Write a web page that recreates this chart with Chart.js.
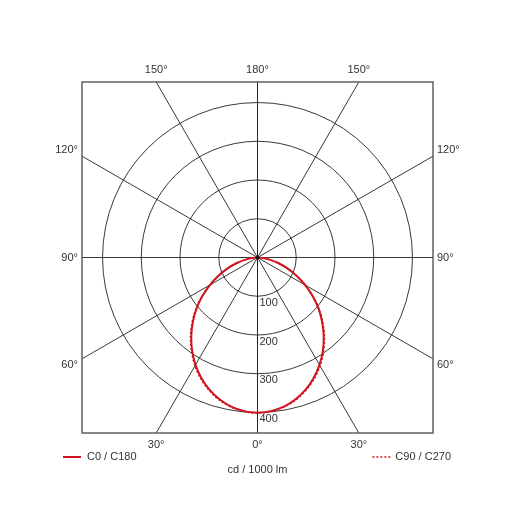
<!DOCTYPE html>
<html>
<head>
<meta charset="utf-8">
<script src="https://cdn.jsdelivr.net/npm/chart.js@4"></script>
<style>
  body { margin: 0; background: #fff; }
  #wrap { width: 515px; height: 515px; }
</style>
</head>
<body>
<div id="wrap"><canvas id="polarChart" width="515" height="515"></canvas></div>
<script>
// Gamma angles (deg from nadir) and intensities in cd / 1000 lm
const gammaAngles = [0, 5, 10, 15, 20, 25, 30, 35, 40, 45, 50, 55, 60, 65, 70, 75, 80, 85, 90];
const c0c180 = [401, 398, 391, 379, 363, 343, 320, 294, 266, 236, 206, 174, 142, 111, 82, 55, 31, 11, 0];
const c90c270 = [402, 399, 392, 381, 365, 346, 323, 297, 269, 239, 208, 176, 143, 112, 83, 56, 31, 11, 0];

// grid
const ringValues = [100, 200, 300, 400];
const spokeAngles = [0, 30, 60, 90, 120, 150, 180];
const spokeLabels = ['0°', '30°', '60°', '90°', '120°', '150°', '180°'];
const legendLabels = ['C0 / C180', 'C90 / C270'];
const unitLabel = 'cd / 1000 lm';
const axisLimit = 453;

const red = '#d0141e';

// Turn one C-plane into a closed outline (left half then right half)
function toPoints(values) {
    const pts = [];
    for (let i = gammaAngles.length - 1; i >= 0; i--) {
        const a = gammaAngles[i] * Math.PI / 180;
        pts.push({ x: -values[i] * Math.sin(a), y: -values[i] * Math.cos(a) });
    }
    for (let i = 1; i < gammaAngles.length; i++) {
        const a = gammaAngles[i] * Math.PI / 180;
        pts.push({ x: values[i] * Math.sin(a), y: -values[i] * Math.cos(a) });
    }
    return pts;
}

// Polar grid, frame and texts
const polarGrid = {
    id: 'polarGrid',
    beforeDatasetsDraw(chart) {
        const { ctx, chartArea, scales } = chart;
        const cx = scales.x.getPixelForValue(0);
        const cy = scales.y.getPixelForValue(0);
        const unit = scales.x.getPixelForValue(100) - cx;
        ctx.save();
        ctx.beginPath();
        ctx.rect(chartArea.left, chartArea.top, chartArea.width, chartArea.height);
        ctx.clip();
        ctx.strokeStyle = '#222';
        ctx.lineWidth = 0.9;
        ringValues.forEach(v => {
            ctx.beginPath();
            ctx.arc(cx, cy, v / 100 * unit, 0, Math.PI * 2);
            ctx.stroke();
        });
        spokeAngles.forEach(deg => {
            const a = deg * Math.PI / 180;
            [-1, 1].forEach(side => {
                ctx.beginPath();
                ctx.moveTo(cx, cy);
                ctx.lineTo(scales.x.getPixelForValue(side * 1000 * Math.sin(a)),
                           scales.y.getPixelForValue(-1000 * Math.cos(a)));
                ctx.stroke();
            });
        });
        ctx.restore();
    },
    afterDraw(chart) {
        const { ctx, chartArea, scales } = chart;
        const cx = scales.x.getPixelForValue(0);
        const cy = scales.y.getPixelForValue(0);
        const half = chartArea.width / 2;
        ctx.save();
        // frame
        ctx.strokeStyle = '#555';
        ctx.lineWidth = 1.4;
        ctx.strokeRect(chartArea.left, chartArea.top, chartArea.width, chartArea.height);
        // centre dot
        ctx.fillStyle = '#111';
        ctx.beginPath();
        ctx.arc(cx, cy, 1.8, 0, Math.PI * 2);
        ctx.fill();

        ctx.font = '11px "Liberation Sans", Arial, sans-serif';
        ctx.fillStyle = '#333';
        // ring values
        ctx.textAlign = 'left';
        ctx.textBaseline = 'top';
        ringValues.forEach(v => {
            ctx.fillText(String(v), cx + 2, scales.y.getPixelForValue(-v) + 1);
        });
        // angle labels where spokes meet the frame
        spokeAngles.forEach((deg, i) => {
            const a = deg * Math.PI / 180;
            const dx = Math.sin(a), dy = Math.cos(a);
            if (Math.abs(dx) < Math.abs(dy) - 1e-6 || deg === 0 || deg === 180) {
                // top / bottom edge
                const off = half * dx / Math.abs(dy);
                const y = dy > 0 ? chartArea.bottom + 12 : chartArea.top - 12;
                ctx.textAlign = 'center';
                ctx.textBaseline = 'middle';
                if (deg === 0 || deg === 180) {
                    ctx.fillText(spokeLabels[i], cx, y);
                } else {
                    ctx.fillText(spokeLabels[i], cx - off, y);
                    ctx.fillText(spokeLabels[i], cx + off, y);
                }
            } else {
                // side edges
                const off = half * dy / Math.abs(dx);
                const shift = deg === 90 ? 0 : (dy > 0 ? 6 : -6);
                const y = cy + off + shift;
                ctx.textBaseline = 'middle';
                ctx.textAlign = 'right';
                ctx.fillText(spokeLabels[i], chartArea.left - 4, y);
                ctx.textAlign = 'left';
                ctx.fillText(spokeLabels[i], chartArea.right + 4, y);
            }
        });
        // legend
        const ly = chartArea.bottom + 24;
        ctx.strokeStyle = red;
        ctx.lineWidth = 2;
        ctx.beginPath();
        ctx.moveTo(63, ly);
        ctx.lineTo(81, ly);
        ctx.stroke();
        ctx.textAlign = 'left';
        ctx.fillText(legendLabels[0], 87, ly);
        ctx.textAlign = 'right';
        ctx.fillText(legendLabels[1], chartArea.right + 18, ly);
        const w = ctx.measureText(legendLabels[1]).width;
        const x1 = chartArea.right + 18 - w - 5;
        ctx.lineWidth = 1.5;
        ctx.setLineDash([2, 2]);
        ctx.beginPath();
        ctx.moveTo(x1 - 18, ly);
        ctx.lineTo(x1, ly);
        ctx.stroke();
        ctx.setLineDash([]);
        ctx.textAlign = 'center';
        ctx.fillText(unitLabel, cx, ly + 13);
        ctx.restore();
    }
};

new Chart(document.getElementById('polarChart'), {
    type: 'scatter',
    data: {
        datasets: [{
            label: legendLabels[0],
            data: toPoints(c0c180),
            showLine: true,
            borderColor: red,
            borderWidth: 2,
            pointRadius: 0,
            tension: 0.3
        }, {
            label: legendLabels[1],
            data: toPoints(c90c270),
            showLine: true,
            borderColor: red,
            borderWidth: 1.5,
            borderDash: [2, 2],
            pointRadius: 0,
            tension: 0.3
        }]
    },
    options: {
        responsive: false,
        animation: false,
        layout: { padding: { left: 82, right: 82, top: 82, bottom: 82 } },
        scales: {
            x: { type: 'linear', min: -axisLimit, max: axisLimit, display: false },
            y: { type: 'linear', min: -axisLimit, max: axisLimit, display: false }
        },
        plugins: {
            legend: { display: false },
            tooltip: { enabled: false }
        }
    },
    plugins: [polarGrid]
});
</script>
</body>
</html>
